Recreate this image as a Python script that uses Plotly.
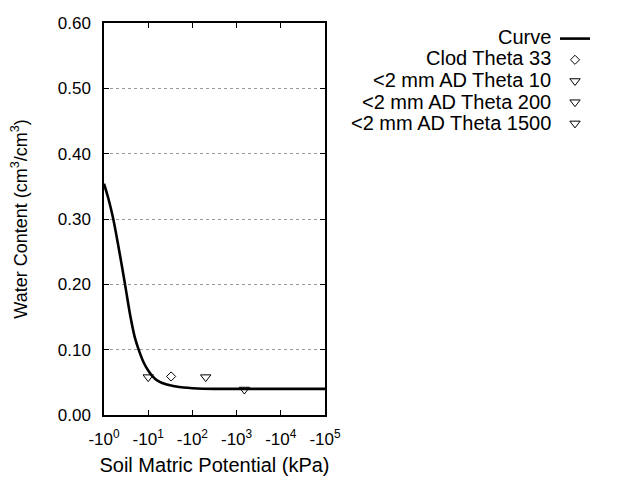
import plotly.graph_objects as go

# ---- data ----
curve_kpa = [1, 1.259, 1.585, 1.995, 2.512, 3.162, 3.981, 5.012, 6.310, 7.943, 10, 12.59, 15.85,
             25.12, 39.81, 63.10, 100, 316.2, 1000, 10000, 100000]
curve_theta = [0.354, 0.331, 0.303, 0.268, 0.230, 0.190, 0.150, 0.118, 0.097, 0.080, 0.068, 0.059, 0.053,
               0.047, 0.044, 0.042, 0.041, 0.040, 0.040, 0.040, 0.040]

clod_kpa = [33]
clod_theta = [0.059]
ad10_kpa = [10]
ad10_theta = [0.058]
ad200_kpa = [200]
ad200_theta = [0.058]
ad1500_kpa = [1500]
ad1500_theta = [0.039]

legend_labels = ["Curve", "Clod Theta 33", "<2 mm AD Theta 10", "<2 mm AD Theta 200", "<2 mm AD Theta 1500"]
x_tickvals = [1, 10, 100, 1000, 10000, 100000]
x_ticktext = ["-10<sup>%d</sup>" % i for i in range(6)]
y_tickvals = [0.0, 0.1, 0.2, 0.3, 0.4, 0.5, 0.6]

FONT = "Liberation Sans, Arial, sans-serif"

fig = go.Figure()
fig.add_trace(go.Scatter(x=curve_kpa, y=curve_theta, mode="lines", name="",
                         line=dict(color="black", width=2.6, shape="spline", smoothing=1.0),
                         hovertemplate=legend_labels[0] + "<extra></extra>"))
mk = dict(color="black", line=dict(color="black", width=1))
fig.add_trace(go.Scatter(x=clod_kpa, y=clod_theta, mode="markers", name="",
                         marker=dict(symbol="diamond-open", size=7, **mk)))
fig.add_trace(go.Scatter(x=ad10_kpa, y=ad10_theta, mode="markers", name="",
                         marker=dict(symbol="triangle-down-open", size=9, **mk)))
fig.add_trace(go.Scatter(x=ad200_kpa, y=ad200_theta, mode="markers", name="",
                         marker=dict(symbol="triangle-down-open", size=9, **mk)))
fig.add_trace(go.Scatter(x=ad1500_kpa, y=ad1500_theta, mode="markers", name="",
                         marker=dict(symbol="triangle-down-open", size=9, **mk)))

# page body adds an 8px offset; figure is drawn 8px smaller and shifted accordingly
OFF = 8
W, H = 640 - OFF, 480 - OFF
L, T = 104 - OFF, 23 - OFF
R, B = W - (325 - OFF), H - (415 - OFF)
pw, ph = W - L - R, H - T - B

def px_x(x):
    return (x - OFF - L) / pw

def px_y(y):
    return (H - B - (y - OFF)) / ph

# legend text (right-aligned; symbols drawn by the plotly legend on the right)
leg_top = 37
leg_step = 21.5
for i, lab in enumerate(legend_labels):
    fig.add_annotation(x=px_x(553), y=px_y(leg_top + i * leg_step), xref="paper", yref="paper",
                       text=lab.replace("<", "&lt;"), showarrow=False, xanchor="right", yanchor="middle",
                       font=dict(family=FONT, size=20, color="black"))

fig.update_layout(
    width=W, height=H, autosize=False,
    margin=dict(l=L, r=R, t=T, b=B, autoexpand=False),
    paper_bgcolor="white", plot_bgcolor="white",
    font=dict(family=FONT, color="black"),
    showlegend=True,
    legend=dict(x=px_x(555), y=px_y(leg_top - 14), xanchor="left", yanchor="top",
                font=dict(size=14), bgcolor="rgba(0,0,0,0)", itemwidth=30,
                tracegroupgap=0),
)
fig.update_xaxes(type="log", range=[0, 5], tickvals=x_tickvals, ticktext=x_ticktext,
                 ticks="inside", ticklen=5, tickcolor="black", showline=True, linecolor="black",
                 linewidth=1.5, mirror="ticks", showgrid=False, zeroline=False, automargin=False,
                 tickfont=dict(family=FONT, size=17), ticklabelstandoff=8,
                 title=dict(text="Soil Matric Potential (kPa)", font=dict(family=FONT, size=20), standoff=10))
fig.update_yaxes(range=[0, 0.6], tickvals=y_tickvals, tickformat=".2f",
                 ticks="inside", ticklen=5, tickcolor="black", showline=True, linecolor="black",
                 linewidth=1.5, mirror="ticks", showgrid=True, gridcolor="#999999", griddash="dot",
                 gridwidth=1, zeroline=False, automargin=False,
                 tickfont=dict(family=FONT, size=17), ticklabelstandoff=8,
                 title=dict(text="Water Content (cm<sup>3</sup>/cm<sup>3</sup>)", font=dict(family=FONT, size=18), standoff=26))

fig.write_html("out.html")
